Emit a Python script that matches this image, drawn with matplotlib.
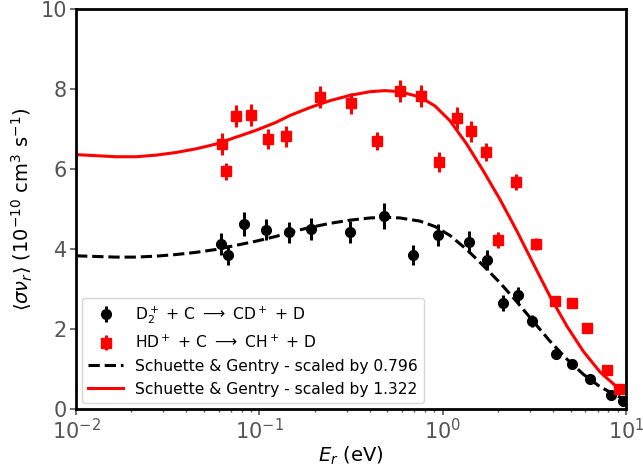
import numpy as np
import matplotlib
matplotlib.use("Agg")
import matplotlib.pyplot as plt

# D2+ + C -> CD+ + D  (schwarze Punkte)
e_d2 = [0.0618, 0.0675, 0.0824, 0.1087, 0.145, 0.191, 0.312, 0.479, 0.689,
        0.944, 1.39, 1.74, 2.14, 2.57, 3.06, 4.14, 5.06, 6.37, 8.28, 9.6]
k_d2 = [4.12, 3.85, 4.63, 4.48, 4.42, 4.50, 4.43, 4.83, 3.85,
        4.35, 4.18, 3.72, 2.64, 2.85, 2.20, 1.37, 1.12, 0.75, 0.35, 0.21]
err_d2 = [0.27, 0.25, 0.3, 0.26, 0.26, 0.27, 0.28, 0.33, 0.25,
          0.27, 0.27, 0.25, 0.2, 0.2, 0.15, 0.1, 0.08, 0.06, 0.05, 0.05]

# HD+ + C -> CH+ + D  (rote Quadrate)
e_hd = [0.0624, 0.0656, 0.0747, 0.0901, 0.112, 0.1397, 0.214, 0.315, 0.438,
        0.587, 0.759, 0.959, 1.19, 1.43, 1.72, 2.0, 2.5, 3.24, 4.08, 5.06,
        6.11, 7.87, 9.12]
k_hd = [6.62, 5.94, 7.33, 7.35, 6.76, 6.82, 7.80, 7.64, 6.70,
        7.95, 7.82, 6.18, 7.27, 6.94, 6.42, 4.22, 5.68, 4.13, 2.71, 2.65,
        2.02, 0.98, 0.50]
err_hd = [0.27, 0.22, 0.27, 0.27, 0.25, 0.26, 0.27, 0.27, 0.22,
          0.27, 0.27, 0.25, 0.27, 0.26, 0.22, 0.2, 0.2, 0.15, 0.12, 0.1,
          0.08, 0.05, 0.05]

# Schuette & Gentry Kurve (unskaliert)
e_sg = [0.0100, 0.01285, 0.01652, 0.02123, 0.02729, 0.03508, 0.04519,
        0.05808, 0.07464, 0.09594, 0.1233, 0.1469, 0.1888, 0.2427, 0.3119,
        0.4018, 0.4842, 0.5848, 0.7516, 0.9078, 1.096, 1.352, 1.667, 2.056,
        2.535, 3.119, 3.846, 4.753, 5.848, 7.211, 8.892, 10.0]
k_sg = [4.81, 4.79, 4.77, 4.77, 4.80, 4.85, 4.92,
        5.01, 5.14, 5.27, 5.42, 5.55, 5.70, 5.83, 5.93,
        6.00, 6.02, 6.00, 5.90, 5.73, 5.45, 5.01, 4.50, 3.96,
        3.37, 2.75, 2.13, 1.57, 1.09, 0.70, 0.42, 0.29]
scale_d2 = 0.796
scale_hd = 1.322

k_sg = np.array(k_sg)

fig = plt.figure(figsize=(6.43, 4.72), dpi=100)
ax = fig.add_axes([0.1182, 0.1335, 0.8554, 0.8475])

h1 = ax.errorbar(e_d2, k_d2, yerr=err_d2, fmt="o", color="black", ms=7,
                 elinewidth=2.2, capsize=0,
                 label=r"D$_2^+$ + C $\longrightarrow$ CD$^+$ + D")
h2 = ax.errorbar(e_hd, k_hd, yerr=err_hd, fmt="s", color="red", ms=7,
                 elinewidth=2.2, capsize=0,
                 label=r"HD$^+$ + C $\longrightarrow$ CH$^+$ + D")
h3, = ax.plot(e_sg, k_sg * scale_d2, "--", color="black", lw=2.2,
              label="Schuette & Gentry - scaled by 0.796")
h4, = ax.plot(e_sg, k_sg * scale_hd, "-", color="red", lw=2.2,
              label="Schuette & Gentry - scaled by 1.322")

ax.set_xscale("log")
ax.set_xlim(1e-2, 1e1)
ax.set_ylim(0, 10)
ax.set_xlabel(r"$E_r$ (eV)", fontsize=14, labelpad=1)
ax.set_ylabel(r"$\langle\sigma\nu_r\rangle$ ($10^{-10}$ cm$^3$ s$^{-1}$)",
              fontsize=14, labelpad=4)
ax.tick_params(axis="both", which="major", labelsize=15, colors="#555555",
               length=4.5, width=1.2, pad=2)
ax.tick_params(axis="x", which="minor", colors="#555555", length=2.5, width=1)
for sp in ax.spines.values():
    sp.set_linewidth(2)
    sp.set_color("black")

ax.legend(handles=[h1, h2, h3, h4], loc="lower left", fontsize=11.2,
          handlelength=2.2, borderaxespad=0.4)

plt.savefig("out.png", dpi=100)
